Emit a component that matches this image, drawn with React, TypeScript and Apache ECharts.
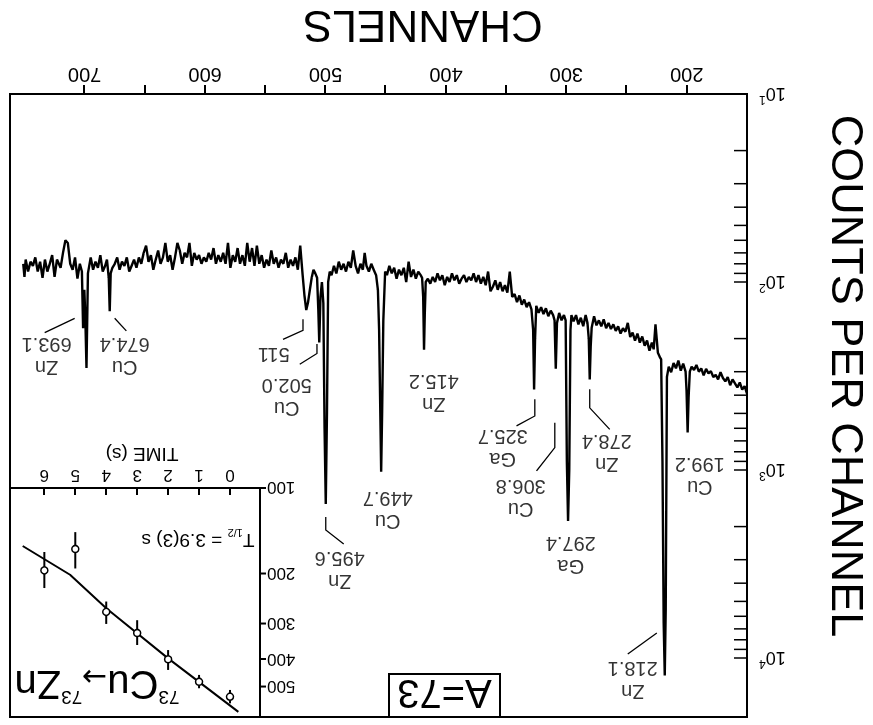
import React, { useEffect, useRef } from 'react';
import * as echarts from 'echarts';

// ---------- Spectrum (channel -> counts per channel) ----------
const channels = [
  150, 152, 154, 156, 158, 160, 162, 164, 166, 168,
  170, 172, 174, 176, 178, 180, 182, 184, 186, 188,
  190, 192, 194, 196, 197.5, 198.5, 199.3, 200.2, 201, 203,
  205, 207, 209, 211, 213, 215, 216.5, 217.5, 218.3, 219.2,
  220.2, 221.3, 222.5, 224, 226, 227.5, 229, 231, 233, 235,
  237, 239, 241, 243, 245, 247, 249, 251, 253, 255,
  257, 259, 261, 263, 265, 267, 269, 271, 273, 275,
  277, 279, 279.8, 280.6, 281.4, 282.5, 284, 286, 288, 290,
  292, 294, 295.8, 296.6, 297.6, 298.6, 299.6, 300.6, 302, 304,
  306, 307.8, 308.8, 309.8, 311, 313, 315, 317, 319, 321,
  323, 325, 326, 326.8, 327.6, 329, 331, 333, 335, 337,
  339, 341, 343, 345, 347, 349, 351, 353, 355, 357,
  359, 361, 363, 365, 367, 369, 371, 373, 375, 377,
  379, 381, 383, 385, 387, 389, 391, 393, 395, 397,
  399, 401, 403, 405, 407, 409, 411, 413, 415, 416.8,
  417.6, 418.2, 418.9, 419.8, 421, 423, 425, 427, 429, 431,
  433, 435, 437, 439, 441, 443, 445, 447, 449, 450.5,
  452, 453, 453.8, 454.6, 455.5, 456.5, 458, 460, 462, 464,
  466, 467.5, 469, 471, 473, 475, 477, 479, 481, 483,
  485, 487, 489, 491, 493, 495, 496.5, 497.8, 498.8, 499.8,
  500.8, 501.8, 503, 504.2, 505.2, 506, 507, 508.5, 510, 511.5,
  513, 514.5, 516, 517.5, 519, 521, 523, 525, 527, 529,
  531, 533, 535, 537, 539, 541, 543, 545, 547, 549,
  551, 553, 555, 557, 559, 561, 563, 565, 567, 569,
  571, 573, 575, 577, 579, 581, 583, 585, 587, 589,
  591, 593, 595, 597, 599, 601, 603, 605, 607, 609,
  611, 613, 615, 617, 619, 621, 623, 625, 627, 629,
  631, 633, 635, 637, 639, 641, 643, 645, 647, 649,
  651, 653, 655, 657, 659, 661, 663, 665, 667, 669,
  671, 673, 675, 677, 678.4, 679.2, 680, 681.5, 683, 685,
  687, 689, 691, 693, 695, 697.3, 698.5, 699.5, 700.3, 701.3,
  702.3, 704, 706, 708, 710, 712, 714, 716, 718, 720,
  723, 725, 727, 729, 731, 733, 735, 737, 739, 741,
  743, 745, 747, 749, 750, 751
];
const counts = [
  392, 358, 374, 342, 364, 346, 330, 354, 320, 338,
  324, 302, 330, 312, 320, 298, 306, 290, 314, 288,
  300, 276, 294, 282, 300, 410, 632, 380, 300, 272,
  296, 262, 288, 270, 302, 282, 320, 5500, 12400, 6500,
  900, 258, 250, 238, 168, 228, 210, 232, 205, 218,
  195, 210, 188, 205, 186, 196, 165, 184, 176, 188,
  172, 182, 168, 178, 165, 176, 158, 172, 160, 170,
  152, 175, 220, 330, 200, 165, 150, 172, 155, 168,
  150, 162, 150, 180, 1000, 1865, 900, 160, 150, 160,
  146, 165, 289, 160, 150, 142, 152, 138, 148, 136,
  146, 134, 200, 373, 180, 140, 128, 136, 124, 132,
  118, 128, 116, 120, 88, 114, 104, 112, 100, 110,
  98, 106, 112, 88, 104, 94, 102, 92, 100, 90,
  98, 94, 100, 92, 96, 102, 92, 98, 90, 100,
  94, 104, 92, 98, 90, 100, 94, 102, 96, 100,
  150, 229, 120, 95, 92, 88, 96, 86, 94, 78,
  100, 84, 92, 86, 96, 84, 90, 82, 92, 88,
  160, 500, 1020, 450, 180, 110, 92, 86, 80, 88,
  82, 70, 86, 80, 90, 82, 68, 84, 78, 88,
  80, 86, 78, 90, 82, 92, 88, 100, 500, 1515,
  600, 130, 100, 120, 210, 140, 95, 90, 86, 95,
  110, 128, 141, 118, 92, 64, 86, 74, 82, 76,
  84, 70, 80, 76, 84, 74, 80, 68, 82, 76,
  84, 72, 80, 64, 82, 66, 78, 62, 82, 72,
  80, 66, 78, 72, 84, 62, 80, 70, 78, 72,
  80, 66, 76, 70, 78, 74, 80, 72, 76, 70,
  82, 62, 74, 70, 80, 68, 62, 74, 86, 72,
  78, 62, 74, 80, 68, 76, 86, 72, 78, 64,
  70, 80, 74, 84, 76, 82, 88, 74, 82, 78,
  86, 74, 80, 84, 90, 143, 95, 76, 82, 88,
  72, 84, 78, 86, 74, 90, 287, 150, 110, 176,
  88, 80, 96, 74, 86, 80, 62, 60, 70, 84,
  76, 94, 72, 80, 88, 76, 95, 78, 88, 74,
  82, 78, 88, 76, 94, 80
];

// ---------- Axis ticks / labels ----------
const channelTicks = [200, 250, 300, 350, 400, 450, 500, 550, 600, 650, 700];
const channelLabels = [200, 300, 400, 500, 600, 700];
const countMinorTicks = [
  20, 30, 40, 50, 60, 70, 80, 90,
  200, 300, 400, 500, 600, 700, 800, 900,
  2000, 3000, 4000, 5000, 6000, 7000, 8000, 9000
];

// ---------- Peak annotations ----------
const peakLabelText = [
  'Zn\n693.1', 'Cu\n674.4', '511', 'Cu\n502.0', 'Zn\n495.6', 'Cu\n449.7', 'Zn\n415.2',
  'Ga\n325.7', 'Cu\n306.8', 'Ga\n297.4', 'Zn\n278.4', 'Cu\n199.2', 'Zn\n218.1'
];
const peakLabelChannel = [731.6, 666.8, 543.0, 532.2, 488.2, 448.3, 410.1, 352.8, 337.9, 296.3, 266.4, 189.2, 244.9];
const peakLabelCount = [250, 248, 245, 414, 3404, 1633, 394, 764, 1410, 2864, 822, 1089, 13100];
const leaderLines = [
  [[733.2, 186], [708.3, 156]],
  [[665.4, 182], [675.1, 156]],
  [[535.3, 202], [518.7, 181], [518.7, 158]],
  [[521.4, 274], [507.1, 240], [507.1, 214]],
  [[499.8, 1778], [499.8, 2084], [484.9, 2477]],
  [[341.4, 583], [326.2, 516], [326.2, 421]],
  [[324.8, 1012], [309.6, 760], [309.6, 560]],
  [[280.6, 372], [280.6, 467], [264.0, 608]],
  [[249.0, 9527], [224.9, 7362]]
];

// ---------- Inset: decay curve ----------
const decayTime = [0, 1, 2, 3, 4, 5, 6];
const decayCounts = [543, 481, 401, 324, 273, 164, 195];
const decayLow = [514, 455, 372, 292, 251, 143, 168];
const decayHigh = [573, 507, 437, 357, 301, 192, 225];
const fitTime = [-0.27, 2, 4, 5.17, 6.7];
const fitCounts = [614, 398, 265, 202, 160];
const timeTicks = [0, 1, 2, 3, 4, 5, 6];
const insetCountTicks = [100, 200, 300, 400, 500];

const CH_MIN = 150;
const CH_MAX = 762;
const T_MIN = -0.97;
const T_MAX = 7.11;

const FONT = 'Liberation Sans, Arial, sans-serif';

function buildOption(): any {
  return {
    animation: false,
    backgroundColor: '#fff',
    grid: [
      { left: 126, top: 8, width: 737, height: 623, show: true, borderColor: '#000', borderWidth: 2, outerBoundsMode: 'none' },
      { left: 613, top: 8, width: 250, height: 229, show: true, borderColor: '#000', borderWidth: 2, backgroundColor: '#fff', outerBoundsMode: 'none' }
    ],
    xAxis: [
      {
        type: 'value', gridIndex: 0, min: CH_MIN, max: CH_MAX, position: 'bottom',
        axisLine: { show: true, onZero: false, lineStyle: { color: '#000', width: 2 } },
        axisTick: { show: true, inside: false, length: 9, lineStyle: { color: '#000', width: 2 }, customValues: channelTicks },
        axisLabel: { show: true, customValues: channelLabels, fontSize: 20, color: '#000', margin: 9, fontFamily: FONT },
        splitLine: { show: false },
        name: 'CHANNELS', nameLocation: 'middle', nameGap: 45,
        nameTextStyle: { fontSize: 44, color: '#000', fontFamily: FONT, padding: [0, 89, 0, 0] }
      },
      {
        type: 'value', gridIndex: 1, min: T_MIN, max: T_MAX, position: 'bottom',
        axisLine: { show: true, onZero: false, lineStyle: { color: '#000', width: 2 } },
        axisTick: { show: true, inside: true, length: 7, lineStyle: { color: '#000', width: 2 }, customValues: timeTicks },
        axisLabel: { show: true, customValues: timeTicks, fontSize: 17, color: '#000', margin: 4, fontFamily: FONT },
        splitLine: { show: false },
        name: 'TIME (s)', nameLocation: 'middle', nameGap: 24,
        nameTextStyle: { fontSize: 19, color: '#000', fontFamily: FONT, padding: [0, 14, 0, 0] }
      }
    ],
    yAxis: [
      {
        type: 'log', logBase: 10, gridIndex: 0, min: 10, max: 20600,
        axisLine: { show: true, onZero: false, lineStyle: { color: '#000', width: 2 } },
        axisTick: { show: true, inside: true, length: 13, lineStyle: { color: '#000', width: 1.5 } },
        axisLabel: {
          show: true, margin: 12, color: '#000', fontFamily: FONT,
          formatter: (v: number) => {
            const e = Math.log10(v);
            if (Math.abs(e - Math.round(e)) > 1e-6) return '';
            return '{b|10}{s|' + Math.round(e) + '}';
          },
          rich: {
            b: { fontSize: 18, lineHeight: 24, color: '#000', fontFamily: FONT },
            s: { fontSize: 12, lineHeight: 12, verticalAlign: 'top', color: '#000', fontFamily: FONT }
          }
        },
        splitLine: { show: false },
        name: 'COUNTS PER CHANNEL', nameLocation: 'middle', nameGap: 78,
        nameTextStyle: { fontSize: 45, color: '#000', fontFamily: FONT, padding: [0, 59, 0, 0] }
      },
      {
        type: 'log', logBase: 10, gridIndex: 1, min: 100, max: 640,
        axisLine: { show: true, onZero: false, lineStyle: { color: '#000', width: 2 } },
        axisTick: { show: false },
        axisLabel: { show: false },
        splitLine: { show: false }
      }
    ],
    series: [
      {
        type: 'line', xAxisIndex: 0, yAxisIndex: 0,
        data: channels.map((c, i) => [c, counts[i]]),
        showSymbol: false, symbol: 'none',
        lineStyle: { color: '#000', width: 2.4 },
        silent: true, z: 3
      },
      {
        type: 'custom', xAxisIndex: 0, yAxisIndex: 0, silent: true,
        data: countMinorTicks.map((v) => [CH_MIN, v]),
        renderItem: (params: any, api: any) => {
          const p = api.coord([api.value(0), api.value(1)]);
          return {
            type: 'line',
            shape: { x1: p[0], y1: p[1], x2: p[0] + 13, y2: p[1] },
            style: { stroke: '#000', lineWidth: 1.5 }
          };
        }
      },
      {
        type: 'lines', coordinateSystem: 'cartesian2d', xAxisIndex: 0, yAxisIndex: 0,
        polyline: true, silent: true,
        data: leaderLines.map((c) => ({ coords: c })),
        lineStyle: { color: '#000', width: 1.3, opacity: 1 },
        z: 4
      },
      {
        type: 'scatter', xAxisIndex: 0, yAxisIndex: 0, symbolSize: 0, silent: true,
        data: peakLabelText.map((t, i) => ({ value: [peakLabelChannel[i], peakLabelCount[i]], label: { formatter: t } })),
        label: {
          show: true, position: 'inside', fontSize: 20, lineHeight: 23, color: '#000',
          fontFamily: FONT, align: 'center', verticalAlign: 'middle'
        },
        z: 5
      },
      // inset
      {
        type: 'line', xAxisIndex: 1, yAxisIndex: 1,
        data: fitTime.map((t, i) => [t, fitCounts[i]]),
        showSymbol: false, symbol: 'none',
        lineStyle: { color: '#000', width: 2 }, silent: true, z: 6
      },
      {
        type: 'custom', xAxisIndex: 1, yAxisIndex: 1, silent: true,
        data: decayTime.map((t, i) => [t, decayLow[i], decayHigh[i]]),
        encode: { x: 0, y: [1, 2] },
        renderItem: (params: any, api: any) => {
          const a = api.coord([api.value(0), api.value(1)]);
          const b = api.coord([api.value(0), api.value(2)]);
          return {
            type: 'line',
            shape: { x1: a[0], y1: a[1], x2: b[0], y2: b[1] },
            style: { stroke: '#000', lineWidth: 2 }
          };
        },
        z: 6
      },
      {
        type: 'scatter', xAxisIndex: 1, yAxisIndex: 1, silent: true,
        data: decayTime.map((t, i) => [t, decayCounts[i]]),
        symbol: 'circle', symbolSize: 7,
        itemStyle: { color: '#fff', borderColor: '#000', borderWidth: 1.5, opacity: 1 },
        z: 7
      },
      {
        type: 'custom', xAxisIndex: 1, yAxisIndex: 1, silent: true,
        data: insetCountTicks.map((v) => [T_MIN, v]),
        renderItem: (params: any, api: any) => {
          const v = api.value(1);
          const p = api.coord([api.value(0), v]);
          return {
            type: 'group',
            children: [
              { type: 'line', shape: { x1: p[0] - 6, y1: p[1], x2: p[0], y2: p[1] }, style: { stroke: '#000', lineWidth: 2 } },
              {
                type: 'text', x: p[0] - 7, y: p[1],
                style: { text: String(v), align: 'right', verticalAlign: 'middle', fontSize: 17, fontFamily: FONT, fill: '#000' }
              }
            ]
          };
        },
        z: 7
      }
    ],
    graphic: [
      {
        type: 'rect', z: 10,
        shape: { x: 373, y: 8, width: 111, height: 43 },
        style: { fill: '#fff', stroke: '#000', lineWidth: 2 }
      },
      {
        type: 'text', z: 11, x: 428.5, y: 31,
        style: { text: 'A=73', fontSize: 40, fontFamily: FONT, fill: '#000', align: 'center', verticalAlign: 'middle' }
      },
      {
        type: 'text', z: 11, x: 675, y: 184,
        style: {
          text: '{t|T}{s|1/2}{t| = 3.9(3) s}',
          align: 'center', verticalAlign: 'middle',
          rich: {
            t: { fontSize: 19, lineHeight: 26, fontFamily: FONT, fill: '#000' },
            s: { fontSize: 11, lineHeight: 11, verticalAlign: 'bottom', fontFamily: FONT, fill: '#000' }
          }
        }
      },
      {
        type: 'text', z: 11, x: 776, y: 40,
        style: {
          text: '{p|73}{b|Cu}{a|→}{p|73}{b|Zn}',
          align: 'center', verticalAlign: 'middle',
          rich: {
            b: { fontSize: 40, lineHeight: 44, fontFamily: FONT, fill: '#000' },
            p: { fontSize: 19, lineHeight: 19, verticalAlign: 'top', fontFamily: FONT, fill: '#000' },
            a: { fontSize: 30, lineHeight: 28, verticalAlign: 'bottom', fontFamily: 'DejaVu Sans, sans-serif', fill: '#000' }
          }
        }
      }
    ]
  };
}

export default function App() {
  const ref = useRef<HTMLDivElement>(null);
  useEffect(() => {
    if (!ref.current) return;
    const chart = echarts.init(ref.current, null, { renderer: 'svg' });
    chart.setOption(buildOption());
    return () => chart.dispose();
  }, []);
  return (
    <div
      ref={ref}
      style={{
        position: 'fixed', left: 0, top: 0, width: 873, height: 725,
        transform: 'rotate(180deg)', background: '#fff'
      }}
    />
  );
}
